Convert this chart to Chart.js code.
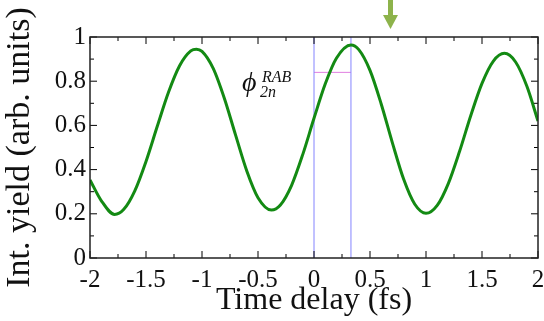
<!DOCTYPE html>
<html>
<head>
<meta charset="utf-8">
<script src="https://cdn.jsdelivr.net/npm/chart.js@4/dist/chart.umd.min.js"></script>
<style>
  html, body { margin: 0; padding: 0; background: #fff; }
  #wrap { width: 544px; height: 321px; position: relative; }
</style>
</head>
<body>
<div id="wrap"><canvas id="chart"></canvas></div>
<script>
// datos
const delays = [-2, -1.9, -1.78, -1.7, -1.6, -1.5, -1.4, -1.3, -1.2, -1.1, -1.05, -1.0, -0.9, -0.8, -0.7, -0.6, -0.5, -0.38, -0.3, -0.2, -0.1, 0, 0.1, 0.2, 0.33, 0.4, 0.5, 0.6, 0.7, 0.8, 0.9, 1.0, 1.1, 1.2, 1.3, 1.4, 1.5, 1.6, 1.7, 1.8, 1.9, 2.0];
const yieldVals = [0.353, 0.26, 0.197, 0.219, 0.304, 0.437, 0.595, 0.749, 0.870, 0.937, 0.945, 0.935, 0.858, 0.722, 0.556, 0.394, 0.273, 0.217, 0.240, 0.329, 0.469, 0.632, 0.787, 0.904, 0.964, 0.943, 0.849, 0.697, 0.521, 0.357, 0.243, 0.202, 0.238, 0.338, 0.483, 0.645, 0.790, 0.890, 0.926, 0.887, 0.778, 0.620];

// lineas de referencia
const markerX = [0, 0.33];
const phaseLevel = 0.84;

const xTicks = [-2, -1.5, -1, -0.5, 0, 0.5, 1, 1.5, 2];
const yTicks = [0, 0.2, 0.4, 0.6, 0.8, 1];

const SERIF = '"Liberation Serif", "Times New Roman", serif';

const curve = delays.map((d, i) => ({ x: d, y: yieldVals[i] }));

// ticks hacia dentro y marco
const frameTicks = {
    id: 'frameTicks',
    afterDraw(chart) {
        const ctx = chart.ctx;
        const a = chart.chartArea;
        const xs = chart.scales.x, ys = chart.scales.y;
        ctx.save();
        ctx.strokeStyle = '#000';
        ctx.lineWidth = 1;
        for (let v = -2; v <= 2.001; v += 0.25) {
            const px = xs.getPixelForValue(v);
            const len = Math.abs(v * 2 - Math.round(v * 2)) < 0.01 ? 7 : 4;
            ctx.beginPath();
            ctx.moveTo(px, a.bottom); ctx.lineTo(px, a.bottom - len);
            ctx.moveTo(px, a.top); ctx.lineTo(px, a.top + len);
            ctx.stroke();
        }
        for (let v = 0; v <= 1.001; v += 0.1) {
            const py = ys.getPixelForValue(v);
            const len = Math.round(v * 10) % 2 === 0 ? 7 : 4;
            ctx.beginPath();
            ctx.moveTo(a.left, py); ctx.lineTo(a.left + len, py);
            ctx.moveTo(a.right, py); ctx.lineTo(a.right - len, py);
            ctx.stroke();
        }
        ctx.lineWidth = 1.5;
        ctx.strokeStyle = '#222';
        ctx.strokeRect(a.left, a.top, a.right - a.left, a.bottom - a.top);

        // etiqueta de fase
        ctx.fillStyle = '#111';
        ctx.textBaseline = 'alphabetic';
        ctx.font = 'italic 28px ' + SERIF;
        ctx.fillText('\u03D5', 242, 91);
        ctx.font = 'italic 16px ' + SERIF;
        ctx.fillText('RAB', 262, 82);
        ctx.fillText('2n', 260, 97);

        // flecha verde decorativa
        ctx.fillStyle = '#8db34b';
        ctx.fillRect(388, 0, 5, 16);
        ctx.beginPath();
        ctx.moveTo(383, 15); ctx.lineTo(398, 15); ctx.lineTo(390.5, 29);
        ctx.closePath();
        ctx.fill();
        ctx.restore();
    }
};

function fmt(v) { return String(Math.round(v * 100) / 100); }

function buildChart() {
    new Chart(document.getElementById('chart'), {
        type: 'scatter',
        data: {
            datasets: [
                {
                    data: curve,
                    showLine: true,
                    borderColor: '#138a13',
                    borderWidth: 3,
                    pointRadius: 0,
                    cubicInterpolationMode: 'monotone'
                },
                {
                    data: [{ x: markerX[0], y: 0 }, { x: markerX[0], y: 1 }],
                    showLine: true, borderColor: '#8484ff', borderWidth: 1, pointRadius: 0
                },
                {
                    data: [{ x: markerX[1], y: 0 }, { x: markerX[1], y: 1 }],
                    showLine: true, borderColor: '#8484ff', borderWidth: 1, pointRadius: 0
                },
                {
                    data: [{ x: markerX[0], y: phaseLevel }, { x: markerX[1], y: phaseLevel }],
                    showLine: true, borderColor: '#e07ee0', borderWidth: 1, pointRadius: 0
                }
            ]
        },
        options: {
            responsive: true,
            maintainAspectRatio: false,
            animation: false,
            layout: { padding: { top: 37, right: 6, left: 0, bottom: 0 } },
            plugins: { legend: { display: false }, tooltip: { enabled: false } },
            scales: {
                x: {
                    type: 'linear',
                    min: -2, max: 2,
                    afterFit: s => { s.height = 63; s.paddingRight = 0; s.paddingLeft = 0; },
                    afterBuildTicks: s => { s.ticks = xTicks.map(v => ({ value: v })); },
                    grid: { display: false, drawTicks: false },
                    border: { display: false },
                    ticks: { color: '#111', padding: 7, callback: fmt, font: { family: SERIF, size: 25 } },
                    title: {
                        display: true, text: 'Time delay (fs)', color: '#111',
                        padding: { top: 0, bottom: 1 },
                        font: { family: SERIF, size: 32 }
                    }
                },
                y: {
                    min: 0, max: 1,
                    afterFit: s => { s.width = 90; },
                    afterBuildTicks: s => { s.ticks = yTicks.map(v => ({ value: v })); },
                    grid: { display: false, drawTicks: false },
                    border: { display: false },
                    ticks: { color: '#111', padding: 4, callback: fmt, font: { family: SERIF, size: 25 } },
                    title: {
                        display: true, text: 'Int. yield (arb. units)', color: '#111',
                        padding: { top: 0, bottom: 14 },
                        font: { family: SERIF, size: 34 }
                    }
                }
            }
        },
        plugins: [frameTicks]
    });
}

Promise.all([
    document.fonts.load('25px "Liberation Serif"'),
    document.fonts.load('italic 16px "Liberation Serif"')
]).then(buildChart, buildChart);
</script>
</body>
</html>
